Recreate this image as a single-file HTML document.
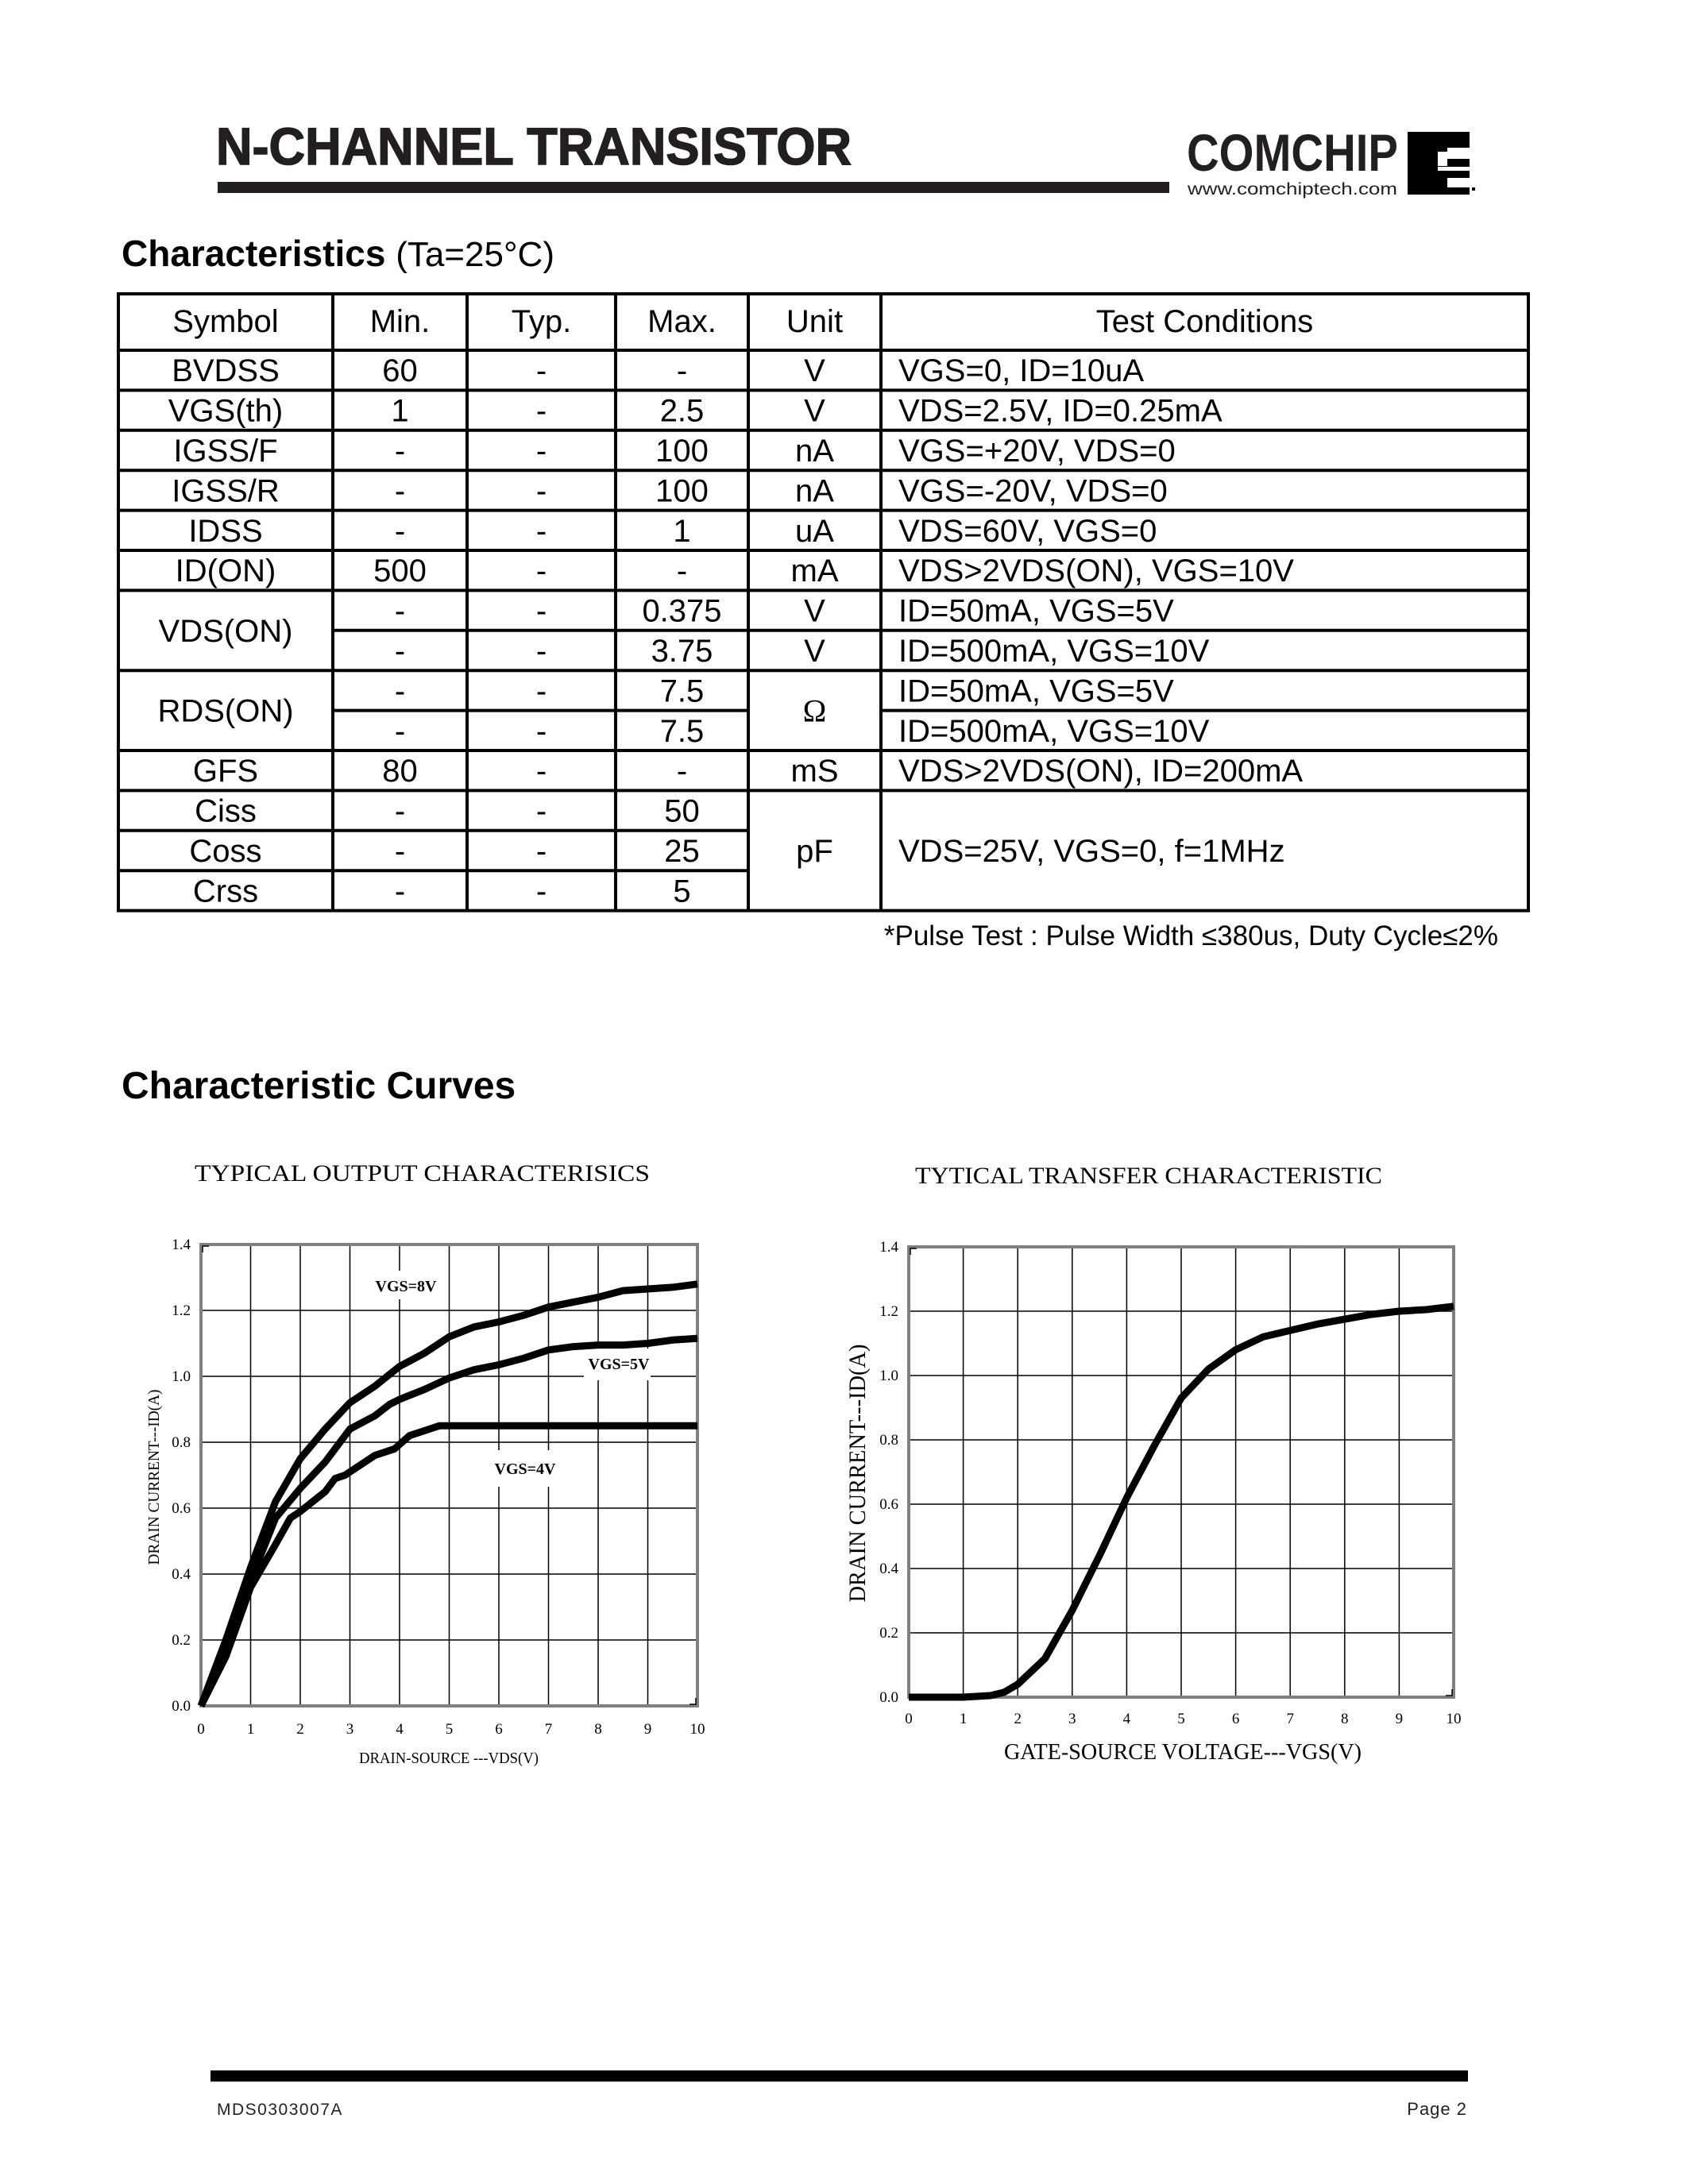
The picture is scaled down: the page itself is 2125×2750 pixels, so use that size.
<!DOCTYPE html>
<html><head><meta charset="utf-8"><style>
html,body{margin:0;padding:0;background:#fff;}
svg{display:block;}
</style></head><body>
<svg id="page" width="2125" height="2750" viewBox="0 0 2125 2750" xmlns="http://www.w3.org/2000/svg" font-family="'Liberation Sans', sans-serif">
<rect width="2125" height="2750" fill="#fff"/>
<text x="272" y="207" font-size="66" font-weight="bold" textLength="800" lengthAdjust="spacingAndGlyphs" fill="#231f20" stroke="#231f20" stroke-width="1.5">N-CHANNEL TRANSISTOR</text>
<rect x="274" y="229" width="1198" height="14" fill="#231f20"/>
<text x="1494" y="215" font-size="66" font-weight="bold" textLength="266" lengthAdjust="spacingAndGlyphs" fill="#231f20">COMCHIP</text>
<text x="1495" y="245" font-size="21" textLength="264" lengthAdjust="spacingAndGlyphs" fill="#231f20">www.comchiptech.com</text>
<g>
<rect x="1772" y="166" width="78" height="79" fill="#000"/>
<rect x="1810" y="191" width="12" height="18" fill="#fff"/>
<rect x="1822" y="186" width="28" height="14" fill="#fff"/>
<rect x="1822" y="224" width="28" height="12" fill="#fff"/>
<rect x="1810" y="210" width="40" height="5" fill="#fff"/>
<rect x="1853" y="236" width="4" height="4" fill="#000"/>
</g>
<text x="153" y="335" font-size="46" font-weight="bold">Characteristics <tspan font-weight="normal" font-size="44">(Ta=25°C)</tspan></text>
<g id="table"></g>
<text x="1886" y="1190" font-size="35" text-anchor="end">*Pulse Test : Pulse Width ≤380us, Duty Cycle≤2%</text>
<text x="153" y="1383" font-size="48" font-weight="bold">Characteristic Curves</text>
<g id="chart1"></g>
<g id="chart2"></g>
<rect x="265" y="2607" width="1583" height="14" fill="#000"/>
<text x="273" y="2663" font-size="21" letter-spacing="1.5" fill="#222">MDS0303007A</text>
<text x="1847" y="2663" font-size="22" text-anchor="end" letter-spacing="1" fill="#222">Page 2</text>
</svg>
<script>
// ---- Output characteristics data ----
const vdsTicks = [0,1,2,3,4,5,6,7,8,9,10];
const idTicks = ["0.0","0.2","0.4","0.6","0.8","1.0","1.2","1.4"];
const vds8 = [0,0.5,1,1.5,2,2.5,3,3.5,4,4.5,5,5.5,6,6.5,7,7.5,8,8.5,9,9.5,10];
const id8 = [0,0.2,0.42,0.62,0.75,0.84,0.92,0.97,1.03,1.07,1.12,1.15,1.165,1.185,1.21,1.225,1.24,1.26,1.265,1.27,1.28];
const vds5 = [0,0.5,1,1.5,2,2.5,3,3.5,3.8,4,4.5,5,5.5,6,6.5,7,7.5,8,8.5,9,9.5,10];
const id5 = [0,0.18,0.38,0.57,0.66,0.74,0.84,0.88,0.915,0.93,0.96,0.995,1.02,1.035,1.055,1.08,1.09,1.095,1.095,1.1,1.11,1.115];
const vds4 = [0,0.5,1,1.5,1.8,2,2.5,2.7,2.9,3.5,3.9,4.2,4.5,4.8,10];
const id4 = [0,0.15,0.36,0.49,0.57,0.59,0.65,0.69,0.7,0.76,0.78,0.82,0.835,0.85,0.85];
// ---- Transfer characteristic data ----
const vgsTicks = [0,1,2,3,4,5,6,7,8,9,10];
const vgs = [0,1,1.5,1.75,2,2.5,3,3.5,4,4.5,5,5.5,6,6.5,7,7.5,8,8.5,9,9.5,10];
const idT = [0,0,0.005,0.015,0.04,0.12,0.27,0.44,0.62,0.78,0.93,1.02,1.08,1.12,1.14,1.16,1.175,1.19,1.2,1.205,1.215];

const NS="http://www.w3.org/2000/svg";
function mk(parent, tag, attrs, text){
  const e=document.createElementNS(NS,tag);
  for(const k in attrs) e.setAttribute(k,attrs[k]);
  if(text!==undefined) e.textContent=text;
  parent.appendChild(e); return e;
}

// ---- Table ----
(function(){
  const g=document.getElementById('table');
  const cols=[149,419,588,775,942,1109,1924];
  const top=370, hdrB=441, rh=50.4;
  const header=["Symbol","Min.","Typ.","Max.","Unit","Test Conditions"];
  const rows=[
    ["BVDSS","60","-","-","V","VGS=0, ID=10uA"],
    ["VGS(th)","1","-","2.5","V","VDS=2.5V, ID=0.25mA"],
    ["IGSS/F","-","-","100","nA","VGS=+20V, VDS=0"],
    ["IGSS/R","-","-","100","nA","VGS=-20V, VDS=0"],
    ["IDSS","-","-","1","uA","VDS=60V, VGS=0"],
    ["ID(ON)","500","-","-","mA","VDS>2VDS(ON), VGS=10V"],
    [null,"-","-","0.375","V","ID=50mA, VGS=5V"],
    [null,"-","-","3.75","V","ID=500mA, VGS=10V"],
    [null,"-","-","7.5",null,"ID=50mA, VGS=5V"],
    [null,"-","-","7.5",null,"ID=500mA, VGS=10V"],
    ["GFS","80","-","-","mS","VDS>2VDS(ON), ID=200mA"],
    ["Ciss","-","-","50",null,null],
    ["Coss","-","-","25",null,null],
    ["Crss","-","-","5",null,null]
  ];
  const bottom=hdrB+rh*14;
  const line=(x1,y1,x2,y2,w)=>{const l=mk(g,'line',{x1,y1,x2,y2,stroke:'#000','stroke-width':w});
    
    };
  cols.forEach(x=>line(x,top,x,bottom,4));
  line(cols[0]-2,top,cols[6]+2,top,4);
  line(cols[0]-2,hdrB,cols[6]+2,hdrB,4);
  line(cols[0]-2,bottom,cols[6]+2,bottom,4);
  for(let i=1;i<14;i++){
    const y=hdrB+rh*i;
    let segs=[[0,6]];
    if(i===7) segs=[[1,6]];
    if(i===9) segs=[[1,4],[5,6]];
    if(i===12||i===13) segs=[[0,4]];
    segs.forEach(s=>line(cols[s[0]],y,cols[s[1]],y,4));
  }
  const cx=i=>(cols[i]+cols[i+1])/2;
  header.forEach((h,i)=>{const t=mk(g,'text',{x:cx(i),y:top+48,'font-size':40,'text-anchor':'middle'},h);
    
    });
  rows.forEach((r,ri)=>{
    const yb=hdrB+rh*ri+rh/2+14;
    r.forEach((v,ci)=>{
      if(v===null) return;
      const a = ci===5 ? {x:cols[5]+22,y:yb,'font-size':40} : {x:cx(ci),y:yb,'font-size':40,'text-anchor':'middle'};
      const t=mk(g,'text',a,v);
      
      
    });
  });
  const merged=[[0,"VDS(ON)",6,2],[0,"RDS(ON)",8,2],[4,"Ω",8,2],[4,"pF",11,3],[5,"VDS=25V, VGS=0, f=1MHz",11,3]];
  merged.forEach(m=>{
    const yb=hdrB+rh*m[2]+rh*m[3]/2+14;
    const a = m[0]===5 ? {x:cols[5]+22,y:yb,'font-size':40} : {x:cx(m[0]),y:yb,'font-size':40,'text-anchor':'middle'};
    if(m[1]==="Ω") a['font-family']="'Liberation Serif', serif";
    const t=mk(g,'text',a,m[1]);
    
    
  });
})();

// ---- Chart builder ----
function chart(gid, opt){
  const g=document.getElementById(gid);
  const L=opt.L,R=opt.R,T=opt.T,B=opt.B;
  const xs=v=>L+(R-L)*v/10;
  const ys=v=>B-(B-T)*v/1.4;
  const serif="'Liberation Serif', serif";
  for(let i=1;i<10;i++){const l=mk(g,'line',{x1:xs(i),y1:T,x2:xs(i),y2:B,stroke:'#000','stroke-width':1.5});
     }
  for(let i=1;i<7;i++){const l=mk(g,'line',{x1:L,y1:ys(i*0.2),x2:R,y2:ys(i*0.2),stroke:'#000','stroke-width':1.5});
     }
  const b=mk(g,'rect',{x:L,y:T,width:R-L,height:B-T,fill:'none',stroke:'#808080','stroke-width':4});
   
  mk(g,'path',{d:`M${L+2},${T+10}V${T+2}H${L+10}M${R-10},${B-2}H${R-2}V${B-10}`,stroke:'#000','stroke-width':1.5,fill:'none'});
  (opt.labels||[]).forEach(lb=>{
    const r=mk(g,'rect',{x:lb.bx,y:lb.by,width:lb.bw,height:lb.bh,fill:'#fff'});
     
  });
  opt.xt.forEach(v=>{const t=mk(g,'text',{x:xs(v),y:B+opt.xtOff,'font-size':19,'font-family':serif,'text-anchor':'middle'},String(v));
     });
  idTicks.forEach((s,i)=>{const t=mk(g,'text',{x:L-13,y:ys(i*0.2)+6,'font-size':19,'font-family':serif,'text-anchor':'end'},s);
     });
  opt.series.forEach(s=>{
    const d=s.x.map((v,i)=>(i?'L':'M')+xs(v).toFixed(1)+','+ys(s.y[i]).toFixed(1)).join('');
    const p=mk(g,'path',{d,fill:'none',stroke:'#000','stroke-width':9,'stroke-linejoin':'round','stroke-linecap':'butt'});
     
  });
  (opt.labels||[]).forEach(lb=>{
    const t=mk(g,'text',{x:lb.x,y:lb.y,'font-size':20,'font-weight':'bold','font-family':serif,'text-anchor':'middle'},lb.t);
     
  });
  const tt=mk(g,'text',{x:opt.title.x,y:opt.title.y,'font-size':opt.title.fs,'font-family':serif,textLength:opt.title.len,lengthAdjust:'spacingAndGlyphs'},opt.title.t);
   
  const xl=mk(g,'text',{x:opt.xl.x,y:opt.xl.y,'font-size':opt.xl.fs,'font-family':serif,'text-anchor':'middle',textLength:opt.xl.len,lengthAdjust:'spacingAndGlyphs'},opt.xl.t);
   
  const yl=mk(g,'text',{x:0,y:0,'font-size':opt.yl.fs,'font-family':serif,'text-anchor':'middle',textLength:opt.yl.len,lengthAdjust:'spacingAndGlyphs',transform:`translate(${opt.yl.x},${opt.yl.y}) rotate(-90)`},opt.yl.t);
   
}

chart('chart1',{L:253,R:878,T:1567,B:2148,xt:vdsTicks,xtOff:35,
  series:[{name:'curve-vgs-8v',x:vds8,y:id8},{name:'curve-vgs-5v',x:vds5,y:id5},{name:'curve-vgs-4v',x:vds4,y:id4}],
  labels:[{t:'VGS=8V',x:511,y:1626,bx:466,by:1600,bw:90,bh:36},
          {t:'VGS=5V',x:779,y:1724,bx:735,by:1698,bw:84,bh:40},
          {t:'VGS=4V',x:661,y:1856,bx:615,by:1826,bw:92,bh:46}],
  title:{t:'TYPICAL   OUTPUT  CHARACTERISICS',x:245,y:1487,fs:30,len:573},
  xl:{t:'DRAIN-SOURCE ---VDS(V)',x:565,y:2220,fs:20,len:226},
  yl:{t:'DRAIN  CURRENT---ID(A)',x:200,y:1860,fs:20,len:221}
});
chart('chart2',{L:1144,R:1830,T:1570,B:2137,xt:vgsTicks,xtOff:33,
  series:[{name:'curve-transfer',x:vgs,y:idT}],
  labels:[],
  title:{t:'TYTICAL TRANSFER CHARACTERISTIC',x:1152,y:1490,fs:30,len:588},
  xl:{t:'GATE-SOURCE  VOLTAGE---VGS(V)',x:1489,y:2215,fs:28,len:450},
  yl:{t:'DRAIN  CURRENT---ID(A)',x:1089,y:1855,fs:30,len:325}
});
</script>
</body></html>
